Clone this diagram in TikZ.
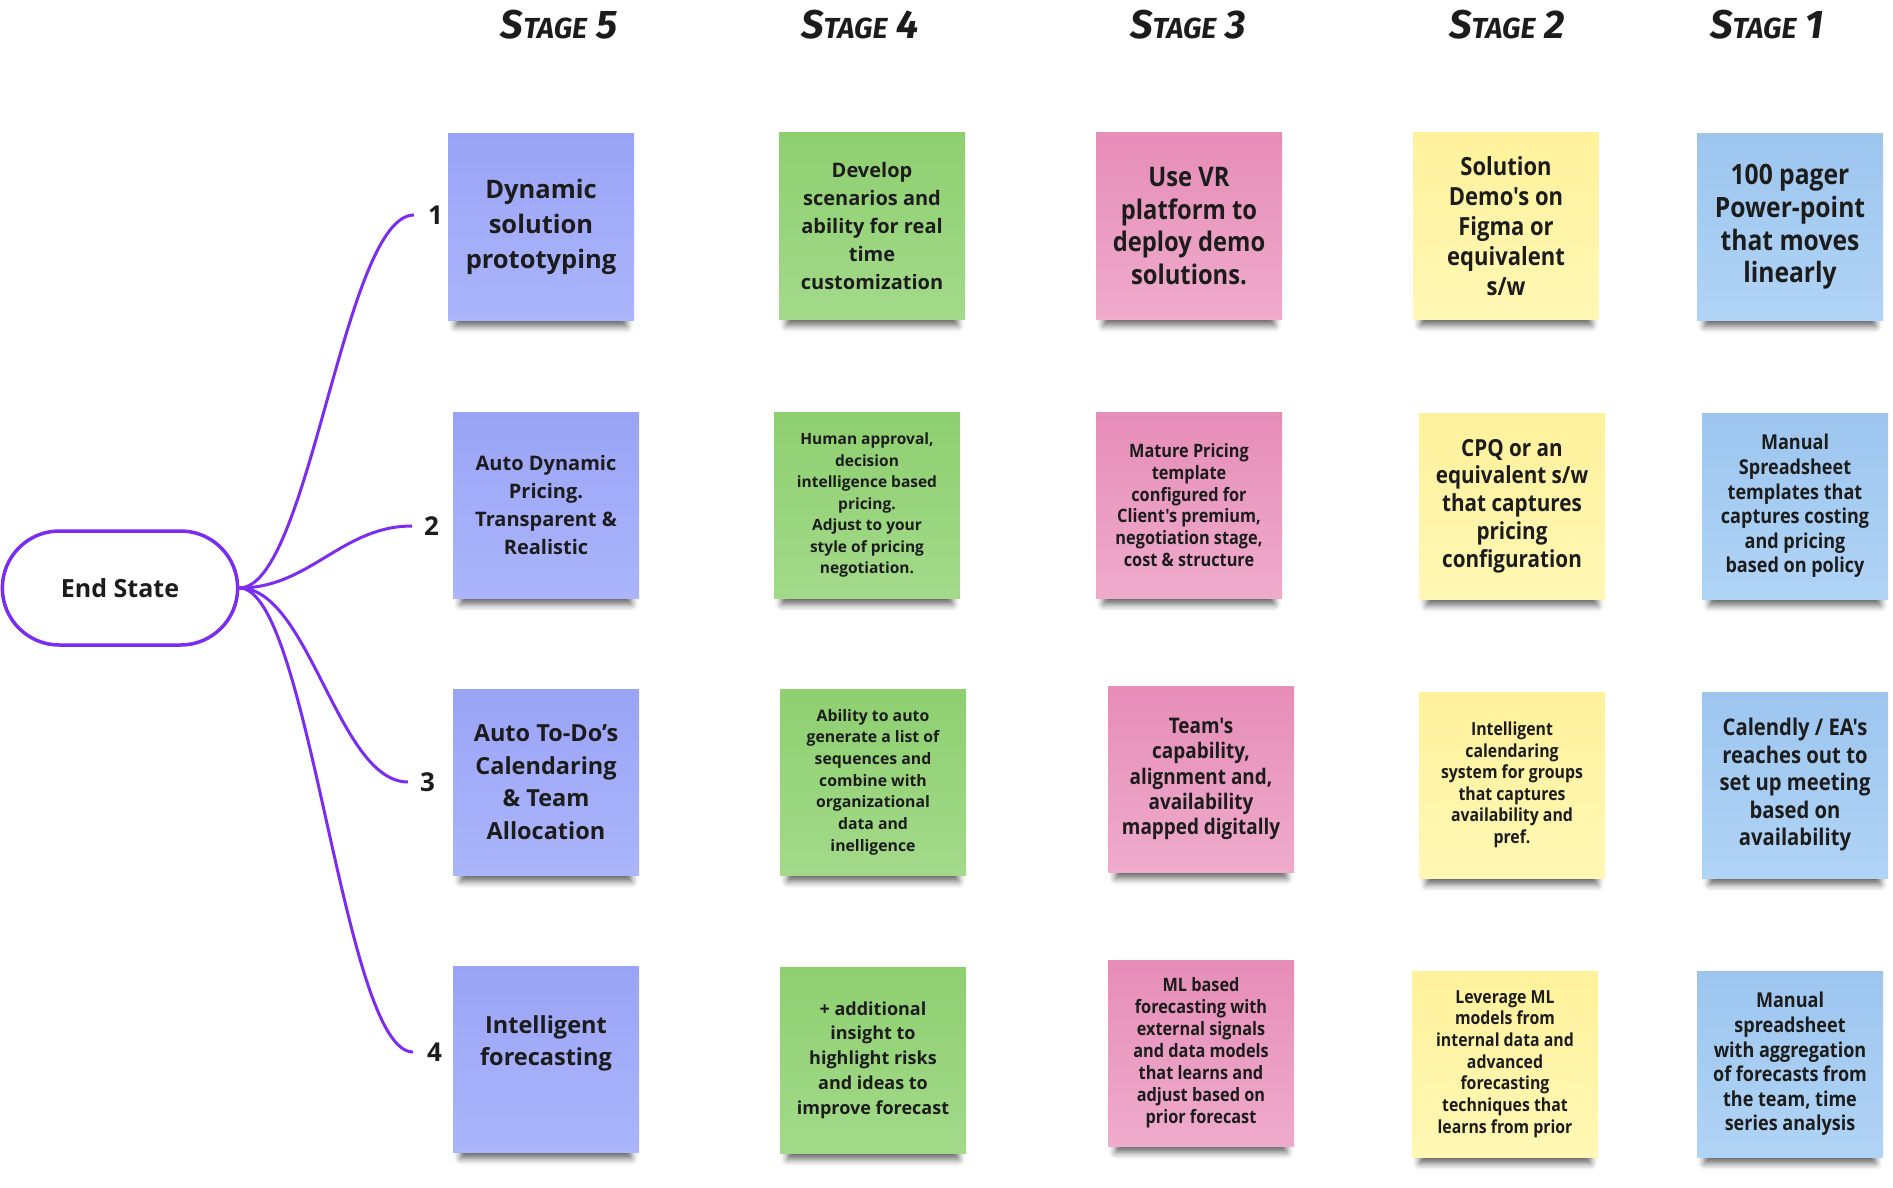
\documentclass[tikz,border=0pt]{standalone}
\usepackage{fontspec}
\setmainfont{Open Sans}
\newfontfamily\condfont[FakeStretch=0.88]{Open Sans}
\newfontfamily\stagefont{Fira Sans}
\usetikzlibrary{positioning,shapes.misc,shadows.blur}
\definecolor{mapline}{HTML}{7B2CF0}
\definecolor{ink}{HTML}{1C1C1C}
\definecolor{violetA}{HTML}{9AA4F6}
\definecolor{violetB}{HTML}{ABB5FB}
\definecolor{greenA}{HTML}{8ECF70}
\definecolor{greenB}{HTML}{A3DA8A}
\definecolor{pinkA}{HTML}{E68DB8}
\definecolor{pinkB}{HTML}{EFABCB}
\definecolor{yellowA}{HTML}{FFF29C}
\definecolor{yellowB}{HTML}{FFF7B4}
\definecolor{skyA}{HTML}{9DC5EE}
\definecolor{skyB}{HTML}{B0D4F6}

\begin{document}
\begin{tikzpicture}[
    x=1pt, y=-1pt,
    note/.style={minimum width=186pt, minimum height=186pt, inner sep=0pt,
                 align=center, text=ink,
                 blur shadow={shadow xshift=0pt, shadow yshift=-15pt,
                              shadow scale=0.92, shadow blur radius=7pt,
                              shadow opacity=60}},
    c5/.style 2 args={note, top color=violetA, bottom color=violetB,
                      font=\bfseries\fontsize{#1}{#2}\selectfont},
    c4/.style 2 args={note, top color=greenA, bottom color=greenB,
                      font=\bfseries\fontsize{#1}{#2}\selectfont},
    c3/.style 2 args={note, top color=pinkA, bottom color=pinkB,
                      font=\condfont\bfseries\fontsize{#1}{#2}\selectfont},
    c2/.style 2 args={note, top color=yellowA, bottom color=yellowB,
                      font=\condfont\bfseries\fontsize{#1}{#2}\selectfont},
    c1/.style 2 args={note, top color=skyA, bottom color=skyB,
                      font=\condfont\bfseries\fontsize{#1}{#2}\selectfont},
    stage/.style={font=\stagefont\bfseries\itshape\fontsize{40}{40}\selectfont, text=ink},
    endstate/.style={rounded rectangle, draw=mapline, line width=3.5pt,
                     minimum width=242pt, minimum height=114pt, text=ink,
                     font=\bfseries\fontsize{25}{30}\selectfont},
    num/.style={inner sep=0pt, text=ink, font=\bfseries\fontsize{26}{26}\selectfont},
    branch/.style={mapline, line width=3pt}
]
\useasboundingbox (0,0) rectangle (1893,1188);

% stage headings
\node[stage] (h5) at (559,25) {S{\fontsize{29}{29}\selectfont TAGE} 5};
\node[stage] (h4) at (860,25) {S{\fontsize{29}{29}\selectfont TAGE} 4};
\node[stage] (h3) at (1188,25) {S{\fontsize{29}{29}\selectfont TAGE} 3};
\node[stage] (h2) at (1507,25) {S{\fontsize{29}{29}\selectfont TAGE} 2};
\node[stage] (h1) at (1767,25) {S{\fontsize{29}{29}\selectfont TAGE} 1};

% mind map
\node[endstate] (end) at (120,588) {End State};
\coordinate (t1) at (414,215);
\coordinate (t2) at (412,526);
\coordinate (t3) at (408,782);
\coordinate (t4) at (413,1052);
\node[num, right=14pt of t1] (n1) {1};
\node[num, right=12pt of t2] (n2) {2};
\node[num, right=12pt of t3] (n3) {3};
\node[num, right=14pt of t4] (n4) {4};
\draw[branch] (end.east) .. controls +(70,0) and +(-70,0) .. (t1);
\draw[branch] (end.east) .. controls +(70,0) and +(-70,0) .. (t2);
\draw[branch] (end.east) .. controls +(70,0) and +(-70,0) .. (t3);
\draw[branch] (end.east) .. controls +(70,0) and +(-70,0) .. (t4);

% stage 5
\node[c5={25.5}{35}] (s5a) at (541,227) {Dynamic\\solution\\prototyping};
\node[c5={20}{27.8}] (s5b) at (546,505) {Auto Dynamic\\Pricing.\\Transparent \&\\Realistic};
\node[c5={23.5}{32.6}] (s5c) at (546,782) {Auto To-Do's\\Calendaring\\\& Team\\Allocation};
\node[c5={23.5}{32.6}, text depth=37pt] (s5d) at (546,1059) {Intelligent\\forecasting};

% stage 4
\node[c4={20}{27.8}] (s4a) at (872,226) {Develop\\scenarios and\\ability for real\\time\\customization};
\node[c4={15.5}{21.5}] (s4b) at (867,505) {Human approval,\\decision\\intelligence based\\pricing.\\Adjust to your\\style of pricing\\negotiation.};
\node[c4={15.8}{21.7}] (s4c) at (873,782) {Ability to auto\\generate a list of\\sequences and\\combine with\\organizational\\data and\\inelligence};
\node[c4={18}{24.7}] (s4d) at (873,1060) {+ additional\\insight to\\highlight risks\\and ideas to\\improve forecast};

% stage 3
\node[c3={27}{32.6}] (s3a) at (1189,226) {Use VR\\platform to\\deploy demo\\solutions.};
\node[c3={18.5}{21.7}] (s3b) at (1189,505) {Mature Pricing\\template\\configured for\\Client's premium,\\negotiation stage,\\cost \& structure};
\node[c3={21.5}{25.1}] (s3c) at (1201,779) {Team's\\capability,\\alignment and,\\availability\\mapped digitally};
\node[c3={18.5}{22}] (s3d) at (1201,1053) {ML based\\forecasting with\\external signals\\and data models\\that learns and\\adjust based on\\prior forecast};

% stage 2
\node[c2={25}{29.9}] (s2a) at (1506,226) {Solution\\Demo's on\\Figma or\\equivalent\\s/w};
\node[c2={23.5}{27.8}] (s2b) at (1512,506) {CPQ or an\\equivalent s/w\\that captures\\pricing\\configuration};
\node[c2={18}{21.5}] (s2c) at (1512,785) {Intelligent\\calendaring\\system for groups\\that captures\\availability and\\pref.};
\node[c2={18}{21.7}] (s2d) at (1505,1064) {Leverage ML\\models from\\internal data and\\advanced\\forecasting\\techniques that\\learns from prior};

% stage 1
\node[c1={28}{32.6}] (s1a) at (1790,227) {100 pager\\Power-point\\that moves\\linearly};
\node[c1={20.5}{24.6}] (s1b) at (1795,506) {Manual\\Spreadsheet\\templates that\\captures costing\\and pricing\\based on policy};
\node[c1={23}{27.5}] (s1c) at (1795,785) {Calendly / EA's\\reaches out to\\set up meeting\\based on\\availability};
\node[c1={20.5}{24.6}] (s1d) at (1790,1064) {Manual\\spreadsheet\\with aggregation\\of forecasts from\\the team, time\\series analysis};
\end{tikzpicture}
\end{document}
